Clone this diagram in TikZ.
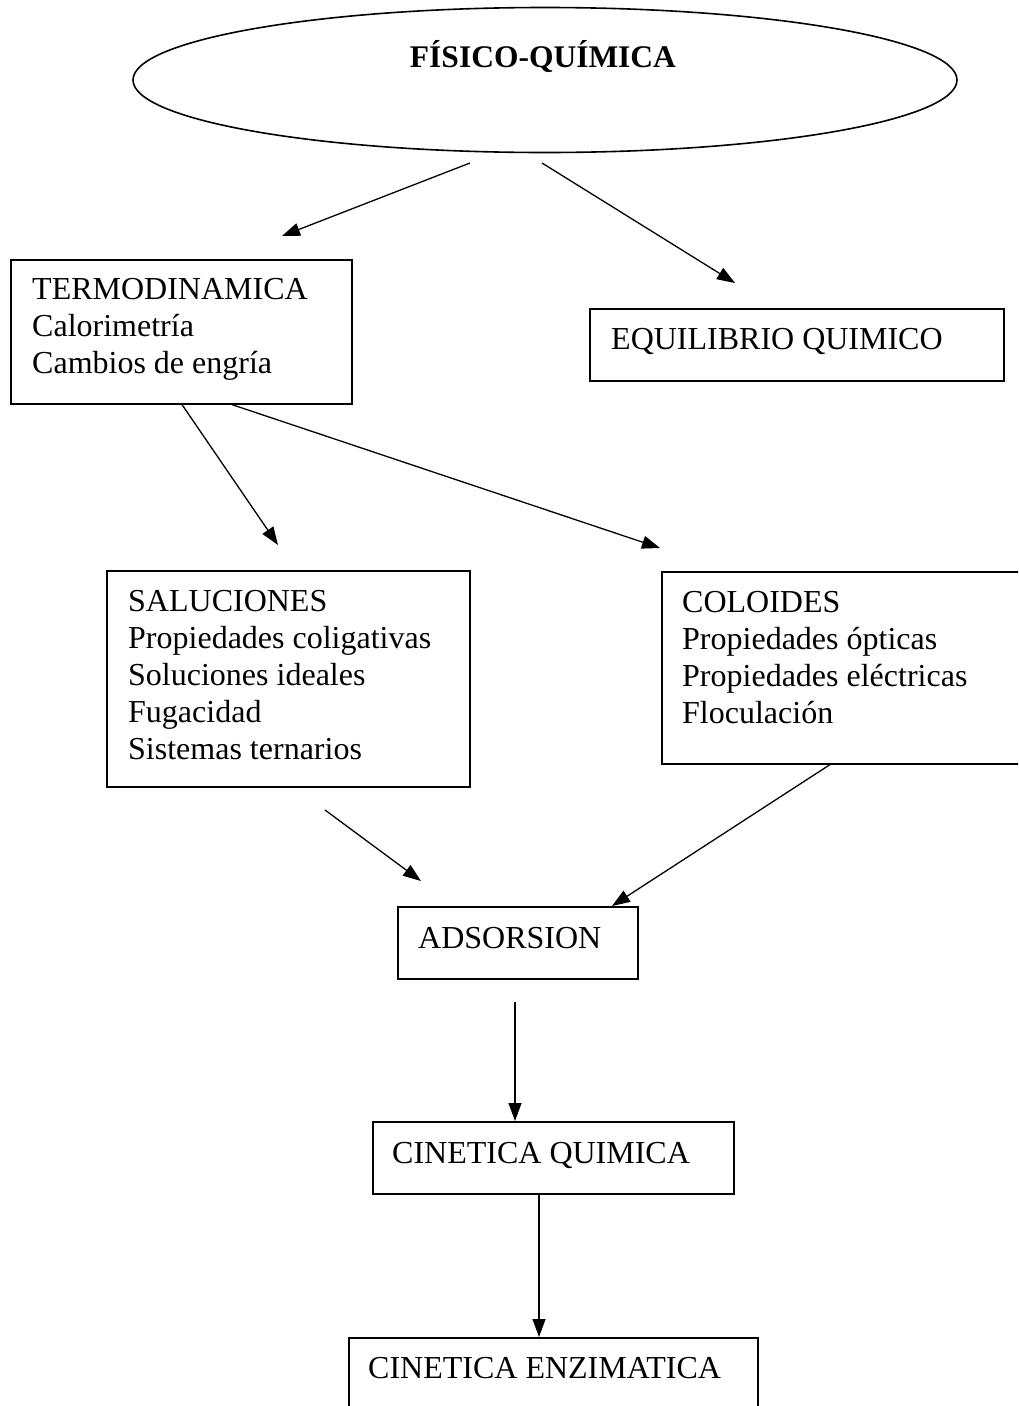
\documentclass[tikz,border=0pt]{standalone}
\usepackage{fontspec}
\setmainfont{Liberation Serif}
\usetikzlibrary{shapes.geometric,arrows.meta,calc}
\begin{document}
\begin{tikzpicture}[x=1pt,y=-1pt,
  boxnode/.style={draw,line width=1.6pt,inner sep=0pt,anchor=north west,rectangle},
  txt/.style={inner sep=0pt,anchor=north west,align=left,font=\fontsize{32}{37}\selectfont},
  arr/.style={line width=1.3pt,-{Triangle[length=18pt,width=13pt]}}]
\clip (0,0) rectangle (1018,1406);
\fill[white] (0,0) rectangle (1018,1406);
% title ellipse
\node[draw,ellipse,line width=1.6pt,minimum width=824pt,minimum height=145pt,inner sep=0pt] (fq) at (545,80) {};
\node[inner sep=0pt,anchor=base,font=\fontsize{31.5}{36}\selectfont\bfseries] (fqt) at (543,67) {FÍSICO-QUÍMICA};
% boxes
\node[boxnode,minimum width=341pt,minimum height=144pt] (termo) at (10,259) {};
\node[txt] (termot) at (32,274) {\rule{0pt}{25pt}TERMODINAMICA\\Calorimetría\\Cambios de engría};
\node[boxnode,minimum width=414pt,minimum height=72pt] (equil) at (589,308) {};
\node[txt] (equilt) at (611,324) {\rule{0pt}{25pt}EQUILIBRIO QUIMICO};
\node[boxnode,minimum width=363pt,minimum height=216pt] (sal) at (106,570) {};
\node[txt] (salt) at (128,586) {\rule{0pt}{25pt}SALUCIONES\\Propiedades coligativas\\Soluciones ideales\\Fugacidad\\Sistemas ternarios};
\node[boxnode,minimum width=380pt,minimum height=192pt] (col) at (661,571) {};
\node[txt] (colt) at (682,587) {\rule{0pt}{25pt}COLOIDES\\Propiedades ópticas\\Propiedades eléctricas\\Floculación};
\node[boxnode,minimum width=240pt,minimum height=72pt] (ads) at (397,906) {};
\node[txt] (adst) at (418,923) {\rule{0pt}{25pt}ADSORSION};
\node[boxnode,minimum width=361pt,minimum height=72pt] (cq) at (372,1121) {};
\node[txt] (cqt) at (392,1138) {\rule{0pt}{25pt}CINETICA QUIMICA};
\node[boxnode,minimum width=409pt,minimum height=100pt] (ce) at (348,1337) {};
\node[txt] (cet) at (368,1353) {\rule{0pt}{25pt}CINETICA ENZIMATICA};
% free ends
\coordinate (a1s) at (470,163);
\coordinate (a1e) at (282,236);
\coordinate (a2s) at (542,163);
\coordinate (a2e) at (735,283);
\coordinate (a3e) at (278,545);
\coordinate (a4e) at (660,548);
\coordinate (a5s) at (325,810);
\coordinate (a5e) at (421,881);
\coordinate (a7s) at (515,1002);
% connectors
\draw[arr] (a1s) -- (a1e);
\draw[arr] (a2s) -- (a2e);
\draw[arr] ($(termo.south west)+(172,0)$) -- (a3e);
\draw[arr] ($(termo.south west)+(222,0)$) -- (a4e);
\draw[arr] (a5s) -- (a5e);
\draw[arr] ($(col.south west)+(169,0)$) -- ($(ads.north west)+(215,0)$);
\draw[arr] (a7s) -- ($(cq.north west)+(143,0)$);
\draw[arr] ($(cq.south west)+(167,0)$) -- ($(ce.north west)+(191,0)$);
\end{tikzpicture}
\end{document}
